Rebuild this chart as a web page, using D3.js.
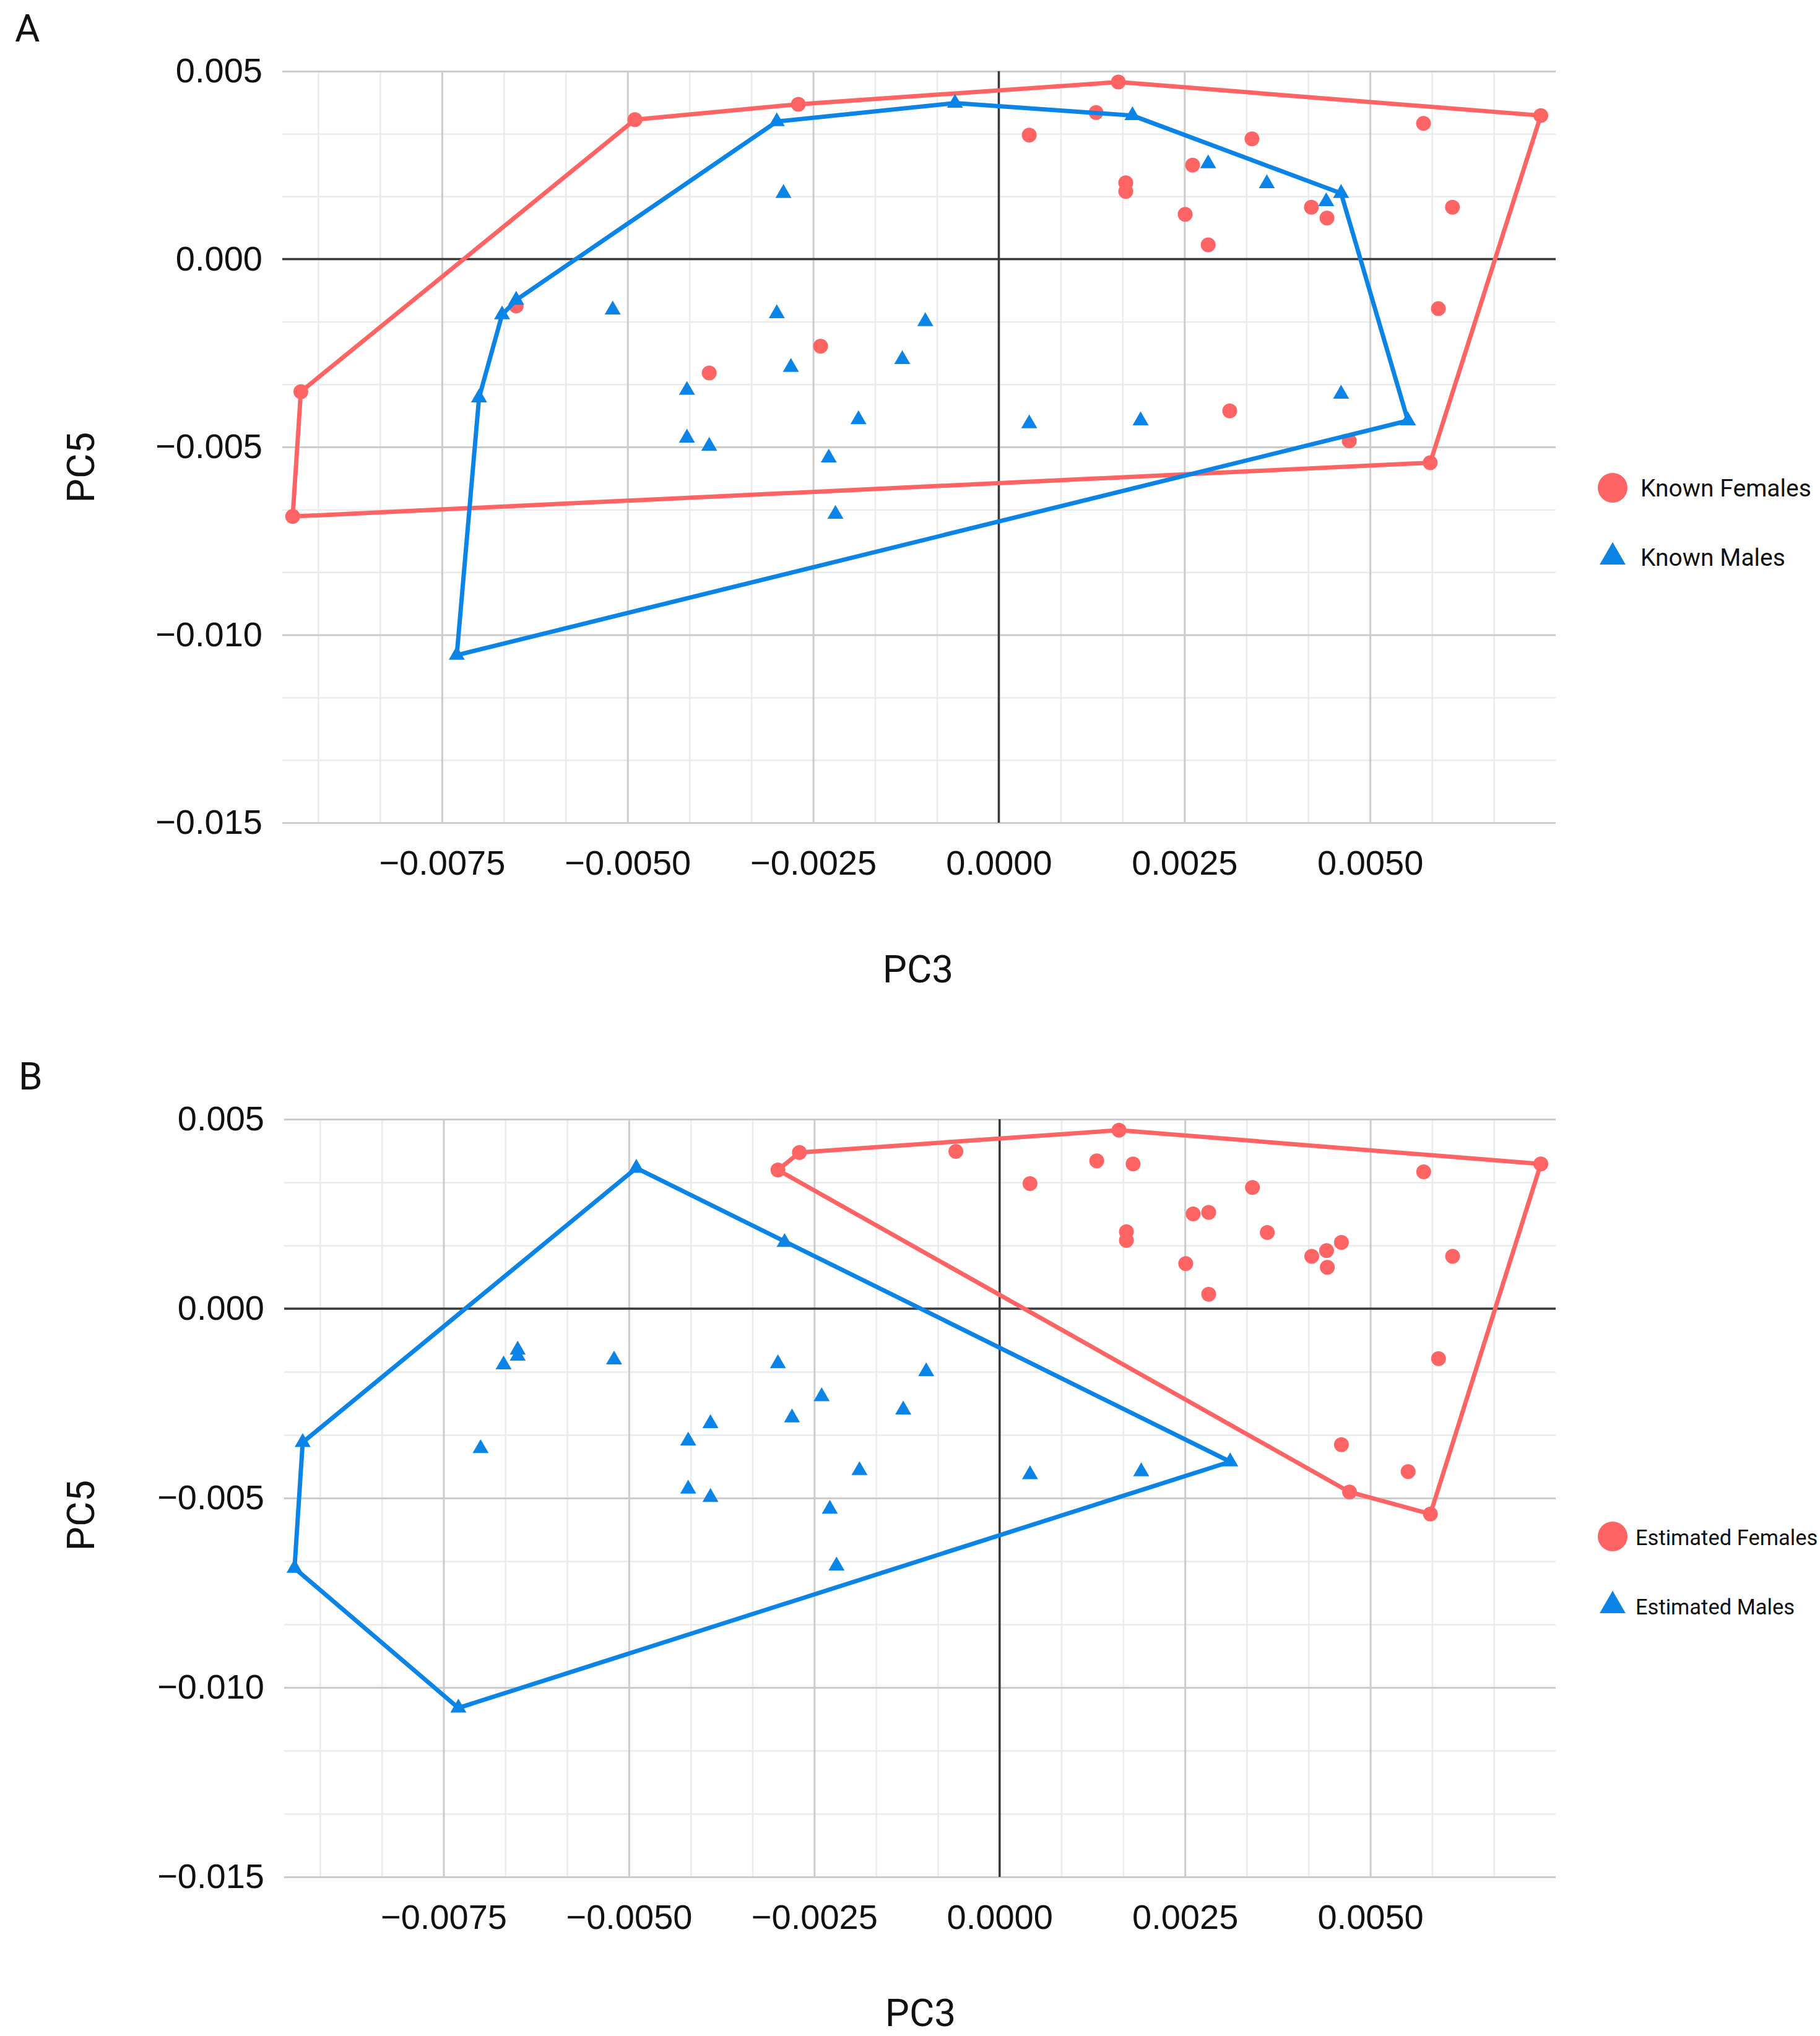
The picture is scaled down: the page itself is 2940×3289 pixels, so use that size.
<!DOCTYPE html>
<html>
<head>
<meta charset="utf-8">
<script src="https://cdn.jsdelivr.net/npm/d3@7"></script>
<style>
  body { margin: 0; background: #fff; }
  svg { display: block; font-family: Roboto, "Noto Sans", sans-serif; }
  .minor line { stroke: #ebebeb; stroke-width: 2.5; }
  .major line { stroke: #cccccc; stroke-width: 3; }
  .major text { fill: #111; font-size: 56px; }
  .zero { stroke: #3a3a3a; stroke-width: 3.5; }
  .title { fill: #111; font-size: 62px; }
  .legend text { fill: #111; }
</style>
</head>
<body>
<div id="chart"></div>
<script>
// PC3 / PC5 scores of each specimen
// first 25 are the known females, the other 27 the known males
const specimenPC3 = [
  0.00161, 0.00730, -0.00490, -0.00270, -0.00940, -0.00951, 0.00581, 0.00041, 0.00131, 0.00341,
  0.00261, 0.00171, 0.00171, 0.00251, 0.00282, 0.00572, 0.00611, 0.00421, 0.00442, 0.00592,
  0.00311, 0.00472, -0.00240, -0.00390, -0.00650,
  -0.00059, -0.00299, 0.00180, 0.00461, 0.00441, 0.00361, 0.00282, -0.00290, -0.00650, -0.00669,
  -0.00700, -0.00730, 0.00551, 0.00461, -0.00520, -0.00420, -0.00420, -0.00390, -0.00299, -0.00280,
  -0.00189, -0.00229, -0.00220, -0.00130, -0.00099, 0.00041, 0.00191
];
const specimenPC5 = [
  0.00471, 0.00382, 0.00371, 0.00412, -0.00353, -0.00685, -0.00542, 0.00330, 0.00390, 0.00320,
  0.00250, 0.00203, 0.00180, 0.00119, 0.00038, 0.00361, 0.00138, 0.00138, 0.00109, -0.00132,
  -0.00404, -0.00484, -0.00232, -0.00303, -0.00125,
  0.00415, 0.00366, 0.00382, 0.00175, 0.00153, 0.00201, 0.00254, 0.00175, -0.00109, -0.00148,
  -0.00369, -0.01054, -0.00430, -0.00359, -0.00135, -0.00349, -0.00476, -0.00498, -0.00145, -0.00288,
  -0.00427, -0.00529, -0.00679, -0.00267, -0.00166, -0.00438, -0.00430
];
const knownSex = [
  "F", "F", "F", "F", "F", "F", "F", "F", "F", "F",
  "F", "F", "F", "F", "F", "F", "F", "F", "F", "F",
  "F", "F", "F", "F", "F",
  "M", "M", "M", "M", "M", "M", "M", "M", "M", "M",
  "M", "M", "M", "M", "M", "M", "M", "M", "M", "M",
  "M", "M", "M", "M", "M", "M", "M"
];
const estimatedSex = [
  "F", "F", "M", "F", "M", "M", "F", "F", "F", "F",
  "F", "F", "F", "F", "F", "F", "F", "F", "F", "F",
  "M", "F", "M", "M", "M",
  "F", "F", "F", "F", "F", "F", "F", "M", "M", "M",
  "M", "M", "F", "F", "M", "M", "M", "M", "M", "M",
  "M", "M", "M", "M", "M", "M", "M"
];

const panelLetters = ["A", "B"];
const femaleLabels = ["Known Females", "Estimated Females"];
const maleLabels = ["Known Males", "Estimated Males"];
const xMajorTicks = [-0.0075, -0.005, -0.0025, 0, 0.0025, 0.005];
const yMajorTicks = [0.005, 0, -0.005, -0.01, -0.015];
const xDomain = [-0.00965, 0.0075];
const yDomain = [-0.015, 0.005];

const RED = "#ff6464";
const BLUE = "#0a84e6";

var width = 2940, height = 3289;
var svg = d3.select("#chart").append("svg")
  .attr("width", width)
  .attr("height", height);

// minor gridlines sit at thirds of the major step
var xMinor = d3.range(-11, 9).filter(function (i) { return i % 3 != 0; })
  .map(function (i) { return i * 0.0025 / 3; });
var yMinor = d3.range(-9, 3).filter(function (i) { return i % 3 != 0; })
  .map(function (i) { return i * 0.005 / 3; });

var panels = [
  { left: 456, right: 2513, top: 115, bottom: 1329, letterX: 24, letterY: 67,
    yTitleY: 755, xTitleX: 1483, xTitleY: 1587, legendX: 2605, legendY: 788,
    legendTextX: 2650, legendFont: 39, sex: knownSex },
  { left: 459, right: 2513, top: 1808, bottom: 3032, letterX: 30, letterY: 1760,
    yTitleY: 2448, xTitleX: 1487, xTitleY: 3273, legendX: 2605, legendY: 2482,
    legendTextX: 2642, legendFont: 34.5, sex: estimatedSex }
];

panels.forEach(function (p, k) {
  drawPanel(p, k);
});

function drawPanel(p, k) {
  var x = d3.scaleLinear().domain(xDomain).range([p.left, p.right]);
  var y = d3.scaleLinear().domain(yDomain).range([p.bottom, p.top]);
  var w = p.right - p.left;
  var h = p.bottom - p.top;
  var g = svg.append("g");

  //minor grid
  g.append("g").attr("class", "minor")
    .attr("transform", "translate(0," + p.bottom + ")")
    .call(d3.axisBottom(x).tickValues(xMinor).tickSize(-h).tickFormat(""));
  g.append("g").attr("class", "minor")
    .attr("transform", "translate(" + p.left + ",0)")
    .call(d3.axisLeft(y).tickValues(yMinor).tickSize(-w).tickFormat(""));

  //major grid and tick labels
  g.append("g").attr("class", "major")
    .attr("transform", "translate(0," + p.bottom + ")")
    .call(d3.axisBottom(x).tickValues(xMajorTicks).tickSize(-h)
      .tickPadding(44).tickFormat(d3.format(".4f")));
  g.append("g").attr("class", "major")
    .attr("transform", "translate(" + p.left + ",0)")
    .call(d3.axisLeft(y).tickValues(yMajorTicks).tickSize(-w)
      .tickPadding(32).tickFormat(d3.format(".3f")));
  g.selectAll(".domain").remove();
  g.selectAll(".major text").attr("font-family", null).attr("font-size", null);

  //zero baselines
  g.append("line").attr("class", "zero")
    .attr("x1", p.left).attr("x2", p.right)
    .attr("y1", y(0)).attr("y2", y(0));
  g.append("line").attr("class", "zero")
    .attr("x1", x(0)).attr("x2", x(0))
    .attr("y1", p.top).attr("y2", p.bottom);

  //hull and markers for each group, females first
  var idx = d3.range(specimenPC3.length);
  ["F", "M"].forEach(function (s) {
    var color = s == "F" ? RED : BLUE;
    var pts = idx.filter(function (i) { return p.sex[i] == s; })
      .map(function (i) { return [x(specimenPC3[i]), y(specimenPC5[i])]; });
    var hull = d3.polygonHull(pts);
    g.append("path")
      .attr("d", "M" + hull.join("L") + "Z")
      .attr("fill", "none")
      .attr("stroke", color)
      .attr("stroke-width", 7)
      .attr("stroke-linejoin", "round");
    if (s == "F") {
      g.append("g").selectAll("circle").data(pts).enter()
        .append("circle")
        .attr("cx", function (d) { return d[0]; })
        .attr("cy", function (d) { return d[1]; })
        .attr("r", 12)
        .attr("fill", color);
    } else {
      g.append("g").selectAll("path").data(pts).enter()
        .append("path")
        .attr("d", d3.symbol().type(d3.symbolTriangle).size(290))
        .attr("transform", function (d) { return "translate(" + d[0] + "," + d[1] + ")"; })
        .attr("fill", color);
    }
  });

  //panel letter and axis titles
  g.append("text").attr("x", p.letterX).attr("y", p.letterY)
    .attr("class", "title").text(panelLetters[k]);
  g.append("text").attr("class", "title")
    .attr("text-anchor", "middle")
    .attr("transform", "translate(152," + p.yTitleY + ") rotate(-90)")
    .text("PC5");
  g.append("text").attr("class", "title")
    .attr("text-anchor", "middle")
    .attr("x", p.xTitleX).attr("y", p.xTitleY)
    .text("PC3");

  //legend
  var lg = g.append("g").attr("class", "legend");
  lg.append("circle").attr("cx", p.legendX).attr("cy", p.legendY)
    .attr("r", 24).attr("fill", RED);
  lg.append("path")
    .attr("d", d3.symbol().type(d3.symbolTriangle).size(760))
    .attr("transform", "translate(" + p.legendX + "," + (p.legendY + 112) + ")")
    .attr("fill", BLUE);
  lg.append("text").attr("x", p.legendTextX).attr("y", p.legendY + 14)
    .attr("font-size", p.legendFont).text(femaleLabels[k]);
  lg.append("text").attr("x", p.legendTextX).attr("y", p.legendY + 126)
    .attr("font-size", p.legendFont).text(maleLabels[k]);
}
</script>
</body>
</html>
